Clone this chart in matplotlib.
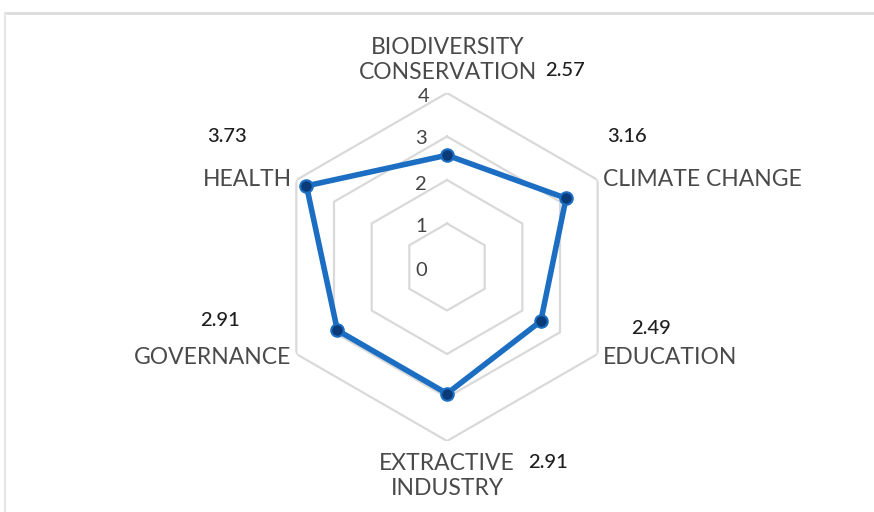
import numpy as np
import matplotlib
matplotlib.use("Agg")
import matplotlib.pyplot as plt
from matplotlib.lines import Line2D

plt.rcParams['font.family'] = ['Lato', 'DejaVu Sans']

categories = ["BIODIVERSITY\nCONSERVATION", "CLIMATE CHANGE", "EDUCATION",
              "EXTRACTIVE\nINDUSTRY", "GOVERNANCE", "HEALTH"]
values = [2.57, 3.16, 2.49, 2.91, 2.91, 3.73]
value_labels = ["2.57", "3.16", "2.49", "2.91", "2.91", "3.73"]
levels = [1, 2, 3, 4]
level_labels = ["0", "1", "2", "3", "4"]

W, H = 874, 512
fig = plt.figure(figsize=(W / 100, H / 100), dpi=100)

cx, cy, R = 447, 267, 174
ax = fig.add_axes([(cx - R) / W, 1 - (cy + R) / H, 2 * R / W, 2 * R / H], projection='polar')
ax.set_theta_offset(np.pi / 2)
ax.set_theta_direction(-1)
ax.set_ylim(0, 4)
ax.grid(False)
ax.set_xticks([])
ax.set_yticks([])
ax.spines['polar'].set_visible(False)
ax.patch.set_alpha(0)

n = len(categories)
theta = np.linspace(0, 2 * np.pi, n, endpoint=False)
theta_c = np.append(theta, theta[0])

for lv in levels:
    ax.plot(theta_c, [lv] * (n + 1), color='#d9d9d9', lw=1.6, zorder=1)

vals_c = values + [values[0]]
ax.plot(theta_c, vals_c, color='#1b6ec2', lw=4, zorder=3, solid_joinstyle='round')
ax.plot(theta, values, 'o', ms=9, color='#0a3a78', mec='#1b6ec2', mew=1.5, zorder=4)


def px(x, y):
    return (x / W, 1 - y / H)


tick_pos = [(421, 270), (421, 227), (421, 184), (421, 139), (424, 97)]
for lab, (x, y) in zip(level_labels, tick_pos):
    fig.text(*px(x, y), lab, fontsize=14.5, color='#444444', ha='center', va='center')

lab_color = '#4a4a4a'
fs = 16.5
cat_pos = [
    (448, 60, 'center', 'center'),
    (603, 180, 'left', 'center'),
    (603, 357, 'left', 'center'),
    (447, 476, 'center', 'center'),
    (291, 357, 'right', 'center'),
    (292, 180, 'right', 'center'),
]
for lab, (x, y, ha, va) in zip(categories, cat_pos):
    fig.text(*px(x, y), lab, fontsize=fs, color=lab_color, ha=ha, va=va,
             linespacing=1.22, multialignment='center')

val_pos = [(545, 71), (607, 136), (631, 328), (528, 462), (200, 321), (207, 136)]
for lab, (x, y) in zip(value_labels, val_pos):
    fig.text(*px(x, y), lab, fontsize=14.5, color='#1e1e1e', ha='left', va='center',
             fontweight='medium')

# card frame
fig.add_artist(Line2D([5 / W, 1], [1 - 13 / H, 1 - 13 / H], color='#dcdcdc', lw=2, transform=fig.transFigure))
fig.add_artist(Line2D([5 / W, 5 / W], [0, 1 - 13 / H], color='#e6e6e6', lw=1.5, transform=fig.transFigure))

fig.savefig('out.png', dpi=100, facecolor='white')
